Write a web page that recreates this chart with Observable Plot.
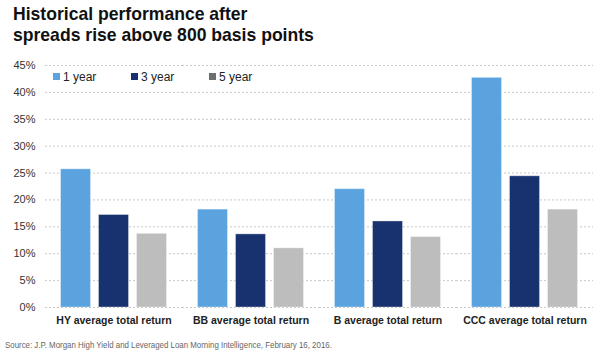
<!DOCTYPE html>
<html>
<head>
<meta charset="utf-8">
<script src="https://cdn.jsdelivr.net/npm/d3@7"></script>
<script src="https://cdn.jsdelivr.net/npm/@observablehq/plot@0.6"></script>
<style>
  html, body { margin: 0; padding: 0; background: #fff; }
  #wrap { position: relative; width: 599px; height: 353px; overflow: hidden; font-family: "Liberation Sans", Arial, sans-serif; }
  #title { position: absolute; left: 13px; top: 3px; font-size: 19px; line-height: 21px; font-weight: bold; color: #111; white-space: nowrap; transform: scaleX(0.925); transform-origin: 0 0; }
  #chart { position: absolute; left: 0; top: 50px; }
  #legend { position: absolute; left: 0; top: 0; }
  .lg { position: absolute; font-size: 12px; color: #222; line-height: 14px; white-space: nowrap; }
  .sw { position: absolute; width: 7px; height: 7px; }
  #caption { position: absolute; left: 5px; top: 339px; font-size: 9.5px; color: #666; line-height: 12px; white-space: nowrap; transform: scaleX(0.83); transform-origin: 0 0; }
</style>
</head>
<body>
<div id="wrap">
  <div id="title">Historical performance after<br>spreads rise above 800 basis points</div>
  <div id="chart"></div>
  <div id="legend"></div>
  <div id="caption">Source: J.P. Morgan High Yield and Leveraged Loan Morning Intelligence, February 16, 2016.</div>
</div>
<script>
const categories = ["HY average total return", "BB average total return", "B average total return", "CCC average total return"];
const seriesNames = ["1 year", "3 year", "5 year"];
const oneYear = [25.7, 18.2, 22.0, 42.7];
const threeYear = [17.2, 13.6, 16.0, 24.4];
const fiveYear = [13.7, 11.0, 13.1, 18.2];
const barColors = ["#5aa3df", "#18326f", "#bdbdbd"];
const legendColors = ["#5aa3df", "#18326f", "#6e6e6e"];
const yTicks = [0, 5, 10, 15, 20, 25, 30, 35, 40, 45];

const seriesValues = [oneYear, threeYear, fiveYear];
const data = [];
categories.forEach((c, i) => {
  seriesNames.forEach((s, j) => data.push({category: c, series: s, value: seriesValues[j][i]}));
});

const plot = Plot.plot({
  width: 599,
  height: 287,
  marginTop: 15,
  marginBottom: 30,
  marginLeft: 43.5,
  marginRight: 5.5,
  style: {fontFamily: '"Liberation Sans", Arial, sans-serif', background: "#fff"},
  fx: {domain: categories, padding: 0, label: null, axis: null},
  x: {domain: seriesNames, paddingInner: 0.2, paddingOuter: 0.38, axis: null},
  y: {domain: [0, 45], ticks: yTicks, label: null, axis: null},
  color: {domain: seriesNames, range: barColors},
  marks: [
    Plot.ruleY(yTicks, {stroke: "#c8c8c8", strokeDasharray: "2,2", strokeWidth: 1}),
    Plot.barY(data, {fx: "category", x: "series", y: "value", fill: "series", stroke: "#fff", strokeOpacity: 0.35, strokeWidth: 1}),
    Plot.axisY({ticks: yTicks, tickSize: 0, tickPadding: 10, tickFormat: d => d + "%", fontSize: 11, fill: "#333", label: null}),
    Plot.axisFx({anchor: "bottom", tickSize: 0, tickPadding: 9, fontSize: 10.5, fontWeight: "bold", fill: "#222", label: null})
  ]
});
document.getElementById("chart").appendChild(plot);

const legendX = [53, 131, 209];
const legend = document.getElementById("legend");
seriesNames.forEach((s, i) => {
  const sw = document.createElement("div");
  sw.className = "sw";
  sw.style.left = legendX[i] + "px";
  sw.style.top = "73px";
  sw.style.background = legendColors[i];
  legend.appendChild(sw);
  const t = document.createElement("div");
  t.className = "lg";
  t.style.left = (legendX[i] + 10) + "px";
  t.style.top = "70px";
  t.textContent = s;
  legend.appendChild(t);
});
</script>
</body>
</html>
